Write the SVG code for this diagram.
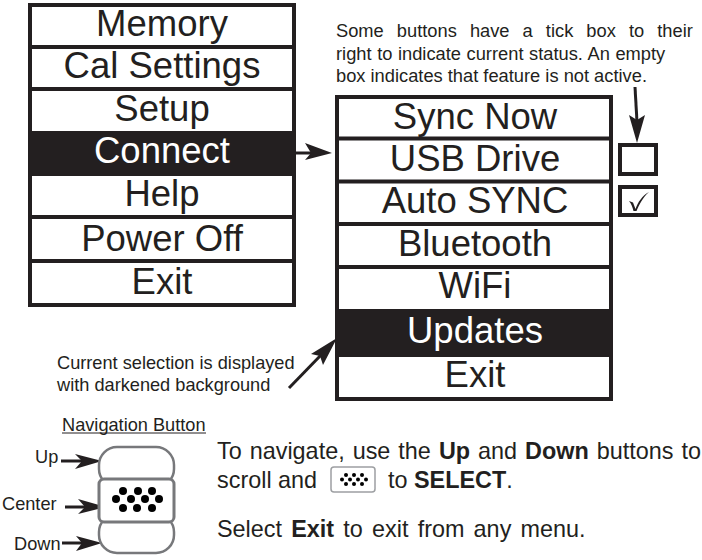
<svg xmlns="http://www.w3.org/2000/svg" width="702" height="560" viewBox="0 0 702 560">
<style>
text{font-family:"Liberation Sans",Arial,sans-serif;fill:#231f20}
.m{font-size:36.5px;text-anchor:middle}
.s{font-size:18.3px}
.n{font-size:18.2px}
.b{font-size:23.4px}
.bb{font-weight:bold}
.l{stroke:#231f20;stroke-width:3;fill:none}
.h{fill:#231f20}
.nb{fill:#fff;stroke:#77787b;stroke-width:2.5}
.nd{fill:#000}
</style>
<g id="menu1">
<rect x="30" y="5" width="264" height="300" fill="#fff" stroke="#231f20" stroke-width="4"/>
<g id="m-memory"><text class="m" x="162" y="35.500">Memory</text></g>
<path d="M30 47H294M30 89H294M30 174H294M30 217H294M30 261H294" stroke="#231f20" stroke-width="4"/>
<g id="m-cal"><text class="m" x="162" y="78">Cal Settings</text></g>
<g id="m-setup"><text class="m" x="162" y="120.500">Setup</text></g>
<g id="m-connect"><rect x="30" y="131" width="264" height="45" fill="#231f20"/><text class="m" style="fill:#fff" x="162" y="162.500">Connect</text></g>
<g id="m-help"><text class="m" x="162" y="205.500">Help</text></g>
<g id="m-power"><text class="m" x="162" y="250.500">Power Off</text></g>
<g id="m-exit"><text class="m" x="162" y="294">Exit</text></g>
</g>
<g id="menu2">
<rect x="337" y="97" width="274" height="302" fill="#fff" stroke="#231f20" stroke-width="4"/>
<path d="M337 138.500H611M337 181.500H611M337 224H611M337 267H611" stroke="#231f20" stroke-width="4"/>
<g id="s-sync"><text class="m" x="475" y="128.500">Sync Now</text></g>
<g id="s-usb"><text class="m" x="475" y="170.500">USB Drive</text></g>
<g id="s-auto"><text class="m" x="475" y="212.500">Auto SYNC</text></g>
<g id="s-bt"><text class="m" x="475" y="255.500">Bluetooth</text></g>
<g id="s-wifi"><text class="m" x="475" y="297.500">WiFi</text></g>
<g id="s-updates"><rect x="337" y="309" width="274" height="48" fill="#231f20"/><text class="m" style="fill:#fff" x="475" y="342.500">Updates</text></g>
<g id="s-exit"><text class="m" x="475" y="386.500">Exit</text></g>
</g>
<g id="tick-empty"><rect x="620" y="145" width="36" height="29" fill="#fff" stroke="#231f20" stroke-width="4"/></g>
<g id="tick-checked"><rect x="620" y="187" width="36" height="28" fill="#fff" stroke="#231f20" stroke-width="4"/><path d="M629 201l4 1.500 2.500 6.500C638 202 642 196 649 192 643 197 639 205 636.500 211H633.500C632.500 207 631.500 204 629 201Z" fill="#231f20"/></g>
<g id="note-tick"><text class="s" x="336" y="37" word-spacing="8">Some buttons have a tick box to their</text><text class="s" x="336" y="60" word-spacing="0.500">right to indicate current status. An empty</text><text class="s" x="336" y="82">box indicates that feature is not active.</text></g>
<g id="note-selection"><text class="n" x="57" y="369">Current selection is displayed</text><text class="n" x="57" y="391">with darkened background</text></g>
<g id="connectors">
<path class="l" d="M296 153H312"/><path class="h" d="M332 153L305 143 311 153 305 160Z"/>
<path class="l" d="M635 87L637 122"/><path class="h" d="M637 143L629 115 637 120 645 115Z"/>
<path class="l" d="M289 388L322 354"/><path class="h" d="M337 338L311 354 320 356 323 365Z"/>
<path class="l" d="M61 461H84"/><path class="h" d="M102 461L75 454 82 461 75 469Z"/>
<path class="l" d="M65 507H88"/><path class="h" d="M106 507L78 499 85 507 78 514Z"/>
<path class="l" d="M62 543H84"/><path class="h" d="M102 543L76 536 82 543 76 551Z"/>
</g>
<g id="nav-label"><text class="n" x="62" y="431">Navigation Button</text><path d="M62 433H206" stroke="#231f20" stroke-width="1"/></g>
<g id="nav-up"><rect x="99" y="447" width="75" height="40" rx="18" class="nb"/><text class="n" x="35" y="463">Up</text></g>
<g id="nav-down"><rect x="99" y="514" width="75" height="39" rx="18" class="nb"/><text class="n" x="14" y="550">Down</text></g>
<g id="nav-center"><rect x="99" y="479" width="75" height="43" rx="5" class="nb" style="stroke-width:3"/><text class="n" x="2" y="510">Center</text>
<g class="nd"><circle cx="123" cy="491" r="4"/><circle cx="138" cy="491" r="4"/><circle cx="152" cy="491" r="4"/><circle cx="116" cy="499" r="4"/><circle cx="131" cy="499" r="4"/><circle cx="145" cy="499" r="4"/><circle cx="159" cy="499" r="4"/><circle cx="123" cy="508" r="4"/><circle cx="137" cy="508" r="4"/><circle cx="152" cy="508" r="4"/></g></g>
<g id="instructions">
<text class="b" x="217" y="459" word-spacing="1.500">To navigate, use the <tspan class="bb">Up</tspan> and <tspan class="bb">Down</tspan> buttons to</text>
<text class="b" x="217" y="488">scroll and</text>
<rect x="331" y="467" width="44" height="25" rx="3" fill="#fff" stroke="#9d9fa2" stroke-width="1.500"/>
<g class="nd"><circle cx="346" cy="475" r="2"/><circle cx="354" cy="475" r="2"/><circle cx="362" cy="475" r="2"/><circle cx="342" cy="479.500" r="2"/><circle cx="350" cy="479.500" r="2"/><circle cx="358" cy="479.500" r="2"/><circle cx="366" cy="479.500" r="2"/><circle cx="346" cy="484" r="2"/><circle cx="354" cy="484" r="2"/><circle cx="362" cy="484" r="2"/></g>
<text class="b" x="388" y="488">to <tspan class="bb">SELECT</tspan>.</text>
<text class="b" x="217" y="537" word-spacing="2.700">Select <tspan class="bb">Exit</tspan> to exit from any menu.</text>
</g>
</svg>
